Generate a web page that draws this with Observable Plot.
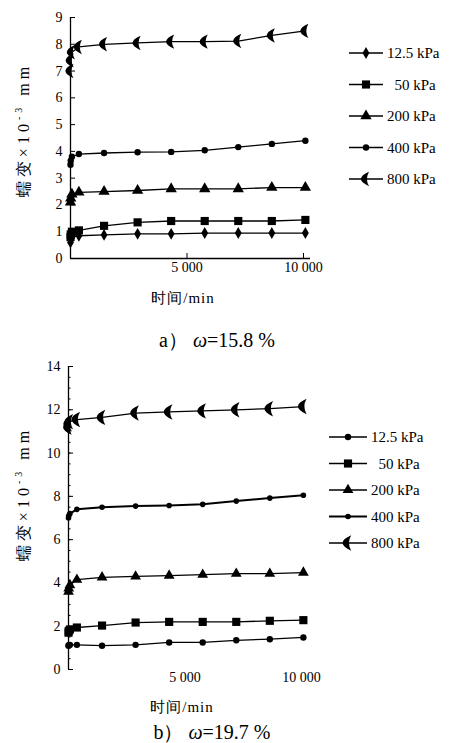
<!DOCTYPE html>
<html>
<head>
<meta charset="utf-8">
<script src="https://cdn.jsdelivr.net/npm/d3@7"></script>
<script src="https://cdn.jsdelivr.net/npm/@observablehq/plot@0.6"></script>
<style>
  html, body { margin: 0; padding: 0; background: #fff; }
  #page { position: relative; width: 465px; height: 743px; overflow: hidden; background: #fff;
          font-family: "Times New Roman", "Liberation Serif", "DejaVu Serif", serif; color: #000; }
  .panel { position: absolute; left: 0; }
  .ytitle { position: absolute; transform: translate(-50%, -50%) rotate(-90deg); white-space: nowrap;
            font-size: 16px; letter-spacing: 4px; }
  .xtitle { position: absolute; transform: translate(-50%, -50%); white-space: nowrap;
            font-size: 15px; letter-spacing: 1px; }
  .caption { position: absolute; transform: translate(-50%, -50%); white-space: nowrap; font-size: 20px; }
  .caption i { font-style: italic; }
  .legend { position: absolute; }
</style>
</head>
<body>
<div id="page"></div>
<script>
// Elapsed time of each reading (min): early readings, then one per day for 7 days
const minutes = [0, 10, 60, 360, 1440, 2880, 4320, 5760, 7200, 8640, 10080];
const pressures = ["12.5 kPa", "50 kPa", "200 kPa", "400 kPa", "800 kPa"];
const legendLabels = ["12.5 kPa", "  50 kPa", "200 kPa", "400 kPa", "800 kPa"];

// Panel a: ω = 15.8 %, deformation ×10⁻³ mm
const a125 = [0.60, 0.70, 0.80, 0.85, 0.88, 0.92, 0.92, 0.95, 0.95, 0.95, 0.95];
const a50  = [0.80, 0.90, 1.00, 1.05, 1.22, 1.35, 1.40, 1.40, 1.40, 1.40, 1.44];
const a200 = [2.10, 2.25, 2.40, 2.47, 2.50, 2.54, 2.60, 2.60, 2.60, 2.65, 2.65];
const a400 = [3.50, 3.65, 3.80, 3.90, 3.94, 3.97, 3.98, 4.04, 4.16, 4.28, 4.40];
const a800 = [7.00, 7.40, 7.70, 7.90, 8.00, 8.05, 8.10, 8.10, 8.12, 8.33, 8.50];

// Panel b: ω = 19.7 %
const b125 = [1.10, 1.12, 1.14, 1.14, 1.10, 1.14, 1.25, 1.25, 1.35, 1.40, 1.48];
const b50  = [1.70, 1.78, 1.85, 1.94, 2.03, 2.17, 2.20, 2.20, 2.20, 2.25, 2.28];
const b200 = [3.60, 3.75, 3.90, 4.15, 4.26, 4.30, 4.34, 4.38, 4.43, 4.43, 4.48];
const b400 = [7.00, 7.10, 7.20, 7.40, 7.50, 7.55, 7.58, 7.63, 7.78, 7.92, 8.05];
const b800 = [11.20, 11.35, 11.45, 11.55, 11.65, 11.85, 11.90, 11.95, 12.00, 12.05, 12.15];

const yTicksA = [0, 1, 2, 3, 4, 5, 6, 7, 8, 9];
const yTicksB = [0, 2, 4, 6, 8, 10, 12, 14];
const yMinorB = d3.range(0, 14.01, 0.5);
const xTicks = [5000, 10000];
const xTickLabels = ["5 000", "10 000"];

// Bold crescent marker opening to the right, used for 800 kPa
const crescent = {
  draw(ctx, size) {
    const r = Math.sqrt(size / Math.PI);
    ctx.moveTo(r * 0.5, -r * 1.2);
    ctx.quadraticCurveTo(-r * 2.2, 0, r * 0.5, r * 1.2);
    ctx.quadraticCurveTo(-r * 0.2, 0, r * 0.5, -r * 1.2);
    ctx.closePath();
  }
};

const serif = `"Times New Roman", "Liberation Serif", "DejaVu Serif", serif`;

function makePanel(series, opts) {
  const marks = [];
  series.forEach((s) => {
    const rows = minutes.map((t, i) => ({t, v: s.values[i]}));
    marks.push(Plot.line(rows, {x: "t", y: "v", stroke: "#000", strokeWidth: s.lineWidth}));
    marks.push(Plot.dot(rows, {x: "t", y: "v", symbol: s.symbol, r: s.r, fill: "#000", stroke: "none"}));
  });
  return Plot.plot({
    width: 465,
    height: opts.height,
    marginLeft: opts.left,
    marginRight: 465 - opts.right,
    marginTop: opts.top,
    marginBottom: opts.height - opts.bottom,
    style: {fontFamily: serif, fontSize: "14px", background: "transparent", color: "#000"},
    x: {domain: [0, 10300]},
    y: {domain: opts.yDomain},
    marks: [
      Plot.ruleX([0], {stroke: "#000", strokeWidth: 1.3}),
      opts.xLine ? Plot.ruleY([0], {stroke: "#000", strokeWidth: 1.3}) : null,
      opts.yMinor ? Plot.axisY(opts.yMinor, {tickSize: -2.5, text: null, label: null}) : null,
      Plot.axisY(opts.yTicks, {tickSize: -5, tickPadding: 13, label: null, fontSize: 14}),
      Plot.axisX(xTicks, {tickSize: opts.xLine ? -5 : 0, tickPadding: opts.xPad,
        tickFormat: (d) => xTickLabels[xTicks.indexOf(d)], label: null, fontSize: 14}),
      ...marks
    ]
  });
}

function makeLegend(series, opts) {
  const svg = d3.create("svg").attr("width", 130).attr("height", opts.rows * 5 + 20);
  series.forEach((s, i) => {
    const y = 10 + i * opts.rows;
    const g = svg.append("g");
    g.append("line").attr("x1", 0).attr("x2", opts.lineLen).attr("y1", y).attr("y2", y)
      .attr("stroke", "#000").attr("stroke-width", s.lineWidth);
    g.append("path").attr("transform", `translate(${opts.lineLen / 2},${y})`)
      .attr("d", d3.symbol(s.symbol, Math.PI * s.r * s.r)());
    g.append("text").attr("x", opts.lineLen + 4).attr("y", y).attr("dy", "0.35em")
      .attr("font-family", serif).attr("font-size", 15).attr("xml:space", "preserve")
      .style("white-space", "pre").text(legendLabels[i]);
  });
  return svg.node();
}

const seriesA = [
  {values: a125, symbol: d3.symbolDiamond, r: 3.6, lineWidth: 1.3},
  {values: a50, symbol: d3.symbolSquare, r: 4.6, lineWidth: 1.3},
  {values: a200, symbol: d3.symbolTriangle, r: 4.2, lineWidth: 1.3},
  {values: a400, symbol: d3.symbolCircle, r: 3.2, lineWidth: 1.3},
  {values: a800, symbol: crescent, r: 6.0, lineWidth: 1.3}
];
const seriesB = [
  {values: b125, symbol: d3.symbolCircle, r: 3.2, lineWidth: 1.3},
  {values: b50, symbol: d3.symbolSquare, r: 4.6, lineWidth: 1.3},
  {values: b200, symbol: d3.symbolTriangle, r: 4.0, lineWidth: 1.3},
  {values: b400, symbol: d3.symbolCircle, r: 2.8, lineWidth: 2},
  {values: b800, symbol: crescent, r: 6.4, lineWidth: 1.3}
];

const page = document.getElementById("page");

function place(node, cls, left, top) {
  const d = document.createElement("div");
  d.className = cls;
  d.style.left = left + "px";
  d.style.top = top + "px";
  d.appendChild(node);
  page.appendChild(d);
  return d;
}
function text(cls, html, x, y) {
  const d = document.createElement("div");
  d.className = cls;
  d.style.left = x + "px";
  d.style.top = y + "px";
  d.innerHTML = html;
  page.appendChild(d);
}

// Panel a
place(makePanel(seriesA, {height: 290, left: 70, right: 310, top: 17, bottom: 258,
  yDomain: [0, 9], yTicks: yTicksA, xLine: true, xPad: 9}), "panel", 0, 0);
place(makeLegend(seriesA, {rows: 31.5, lineLen: 34}), "legend", 349, 43);
text("ytitle", "蠕变×10<sup style='font-size:10px'>-3</sup> mm", 24, 130);
text("xtitle", "时间/min", 183, 298);
text("caption", "a）&nbsp;<i>ω</i>=15.8&nbsp;%", 217, 340);

// Panel b
place(makePanel(seriesB, {height: 340, left: 68, right: 308, top: 16, bottom: 319,
  yDomain: [0, 14], yTicks: yTicksB, yMinor: yMinorB, xLine: false, xPad: 3}), "panel", 0, 350);
place(makeLegend(seriesB, {rows: 26.5, lineLen: 38}), "legend", 329, 427);
text("ytitle", "蠕变×10<sup style='font-size:10px'>-3</sup> mm", 24, 494);
text("xtitle", "时间/min", 182, 707);
text("caption", "b）&nbsp;<i>ω</i>=19.7&nbsp;%", 212, 732);
</script>
</body>
</html>
